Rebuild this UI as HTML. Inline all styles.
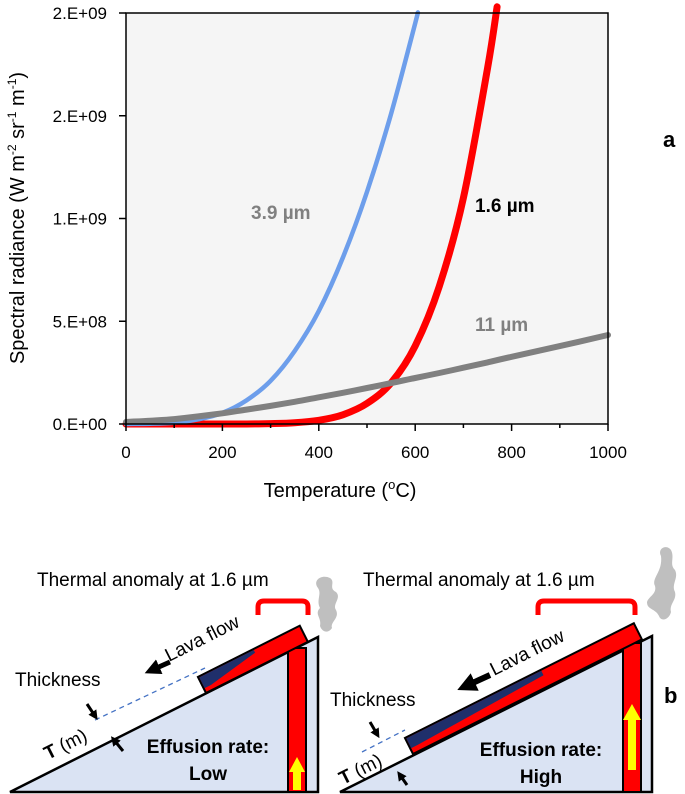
<!DOCTYPE html>
<html><head><meta charset="utf-8"><style>
body{margin:0;background:#fff;width:685px;height:794px;overflow:hidden}
svg{display:block;font-family:"Liberation Sans",Arial,sans-serif}
</style></head><body>
<svg id="svg" width="685" height="794" viewBox="0 0 685 794">
<defs><marker id="ah" viewBox="0 0 10 10" refX="5" refY="5" markerWidth="3.2" markerHeight="3.2" orient="auto"><path d="M0,0 L10,5 L0,10z" fill="#000"/></marker></defs>
<g id="chart"></g>
<g id="diagram">
 <g>
  <path d="M318,588 c-6,-8 4,-14 12,-10 c6,4 -2,10 6,14 c6,6 -4,12 0,18 c4,8 -6,12 -4,18 c-4,6 -10,4 -12,-2 c2,-8 -6,-12 0,-18 c-4,-8 2,-14 -2,-20z" fill="#bfbfbf"/>
  <polygon points="10,792 318,637 318,792" fill="#dae3f3" stroke="#000" stroke-width="2.5"/>
  <rect x="288" y="648" width="18" height="144" fill="#ff0000" stroke="#000" stroke-width="2"/>
  <polygon points="293,790 293,772 289,772 297,757 305,772 301,772 301,790" fill="#ffff00"/>
  <g transform="translate(206,693) rotate(-26.7)">
   <rect x="0" y="-18" width="114" height="18" fill="#ff0000" stroke="#000" stroke-width="2"/>
   <polygon points="1,-17 62,-17 62,-14 8,-5 1,-5" fill="#1f2f6b"/>
  </g>
  <line x1="95" y1="720" x2="205" y2="668" stroke="#4472c4" stroke-width="1.3" stroke-dasharray="5,4"/>
  <path d="M258,615 v-8 q0,-6 6,-6 h38 q6,0 6,6 v8" fill="none" stroke="#ff0000" stroke-width="5"/>
  <text x="37" y="586" font-size="19">Thermal anomaly at 1.6 µm</text>
  <text x="15" y="686" font-size="19">Thickness</text>
  <text transform="translate(169,662) rotate(-26.7)" font-size="19">Lava flow</text>
  <line x1="170" y1="662" x2="152" y2="670" stroke="#000" stroke-width="5" marker-end="url(#ah)"/>
  <line x1="87" y1="704" x2="95" y2="716" stroke="#000" stroke-width="3" marker-end="url(#ah)"/>
  <line x1="123" y1="751" x2="114" y2="740" stroke="#000" stroke-width="3" marker-end="url(#ah)"/>
  <text transform="translate(48,760) rotate(-26.7)" font-size="19"><tspan font-weight="bold">T</tspan> (m)</text>
  <text x="208" y="753" font-size="19" font-weight="bold" text-anchor="middle">Effusion rate:</text>
  <text x="208" y="780" font-size="19" font-weight="bold" text-anchor="middle">Low</text>
 </g>
 <g>
  <path d="M661,556 c-4,-8 6,-12 10,-6 c4,8 -2,14 4,20 c4,8 -4,14 0,22 c2,8 -6,12 -4,20 c-2,8 -10,10 -12,4 c-4,-8 -12,-6 -12,-14 c2,-6 10,-8 8,-16 c-4,-8 8,-14 6,-30z" fill="#bfbfbf"/>
  <polygon points="340,792 652,636 652,792" fill="#dae3f3" stroke="#000" stroke-width="2.5"/>
  <rect x="623" y="643" width="18" height="149" fill="#ff0000" stroke="#000" stroke-width="2"/>
  <polygon points="628,770 628,720 623,720 632,704 641,720 636,720 636,770" fill="#ffff00"/>
  <g transform="translate(413,754) rotate(-26.6)">
   <rect x="0" y="-18" width="256" height="18" fill="#ff0000" stroke="#000" stroke-width="2"/>
   <polygon points="1,-17 152,-17 152,-12 8,-6 1,-6" fill="#1f2f6b"/>
  </g>
  <line x1="362" y1="752" x2="405" y2="730" stroke="#4472c4" stroke-width="1.3" stroke-dasharray="5,4"/>
  <path d="M538,615 v-8 q0,-6 6,-6 h85 q6,0 6,6 v8" fill="none" stroke="#ff0000" stroke-width="5"/>
  <text x="363" y="586" font-size="19">Thermal anomaly at 1.6 µm</text>
  <text x="330" y="706" font-size="19">Thickness</text>
  <text transform="translate(494,676) rotate(-26.6)" font-size="19">Lava flow</text>
  <line x1="490" y1="675" x2="466" y2="686" stroke="#000" stroke-width="6" marker-end="url(#ah)"/>
  <line x1="370" y1="722" x2="377" y2="734" stroke="#000" stroke-width="3" marker-end="url(#ah)"/>
  <line x1="407" y1="785" x2="400" y2="775" stroke="#000" stroke-width="3" marker-end="url(#ah)"/>
  <text transform="translate(343,785) rotate(-26.6)" font-size="19"><tspan font-weight="bold">T</tspan> (m)</text>
  <text x="541" y="756" font-size="19" font-weight="bold" text-anchor="middle">Effusion rate:</text>
  <text x="541" y="783" font-size="19" font-weight="bold" text-anchor="middle">High</text>
  <text x="664" y="703" font-size="22" font-weight="bold">b</text>
 </g>
</g>
</svg>
<script>
const temps = [0,50,100,150,200,250,300,350,400,450,500,550,600,605,650,700,750,770,800,900,1000];
const rad16 = [0,0,0,0,0,1e5,1.9e6,6.1e6,1.8e7,4.5e7,1.0e8,2.0e8,3.8e8,null,6.7e8,1.10e9,1.73e9,2.03e9,null,null,null];
const rad39 = [0,1.5e6,6.7e6,2.3e7,5.4e7,1.15e8,2.1e8,3.55e8,5.5e8,8.1e8,1.13e9,1.51e9,1.95e9,2.0e9,null,null,null,null,null,null,null];
const rad11 = [1.0e7,1.6e7,2.4e7,3.7e7,5.2e7,7.0e7,8.8e7,1.08e8,1.30e8,1.52e8,1.75e8,1.99e8,2.24e8,null,2.48e8,2.74e8,3.0e8,null,3.27e8,3.79e8,4.33e8];
const yTicks = [0,5e8,1e9,1.5e9,2e9];
const yTickLabels = ["0.E+00","5.E+08","1.E+09","2.E+09","2.E+09"];
const xTicks = [0,200,400,600,800,1000];
const xMinor = [100,300,500,700,900];

const X0=126,X1=608,Y0=424,Y1=13;
const sx=v=>X0+(v/1000)*(X1-X0);
const sy=v=>Y0-(v/2e9)*(Y0-Y1);
const NS='http://www.w3.org/2000/svg';
const g=document.getElementById('chart');
function mk(tag,attrs,parent){const e=document.createElementNS(NS,tag);for(const k in attrs)e.setAttribute(k,attrs[k]);(parent||g).appendChild(e);return e;}

let e=mk('rect',{x:X0,y:Y1,width:X1-X0,height:Y0-Y1,fill:'#f5f5f5'});



function series(vals,color,w,name){
  const pts=[];
  temps.forEach((t,i)=>{const v=vals[i];if(v==null)return;pts.push([sx(t),sy(v)]);});
  let d='M'+pts[0][0]+','+pts[0][1];
  for(let i=0;i<pts.length-1;i++){
    const p0=pts[Math.max(i-1,0)],p1=pts[i],p2=pts[i+1],p3=pts[Math.min(i+2,pts.length-1)];
    const c1=[p1[0]+(p2[0]-p0[0])/6,p1[1]+(p2[1]-p0[1])/6];
    const c2=[p2[0]-(p3[0]-p1[0])/6,p2[1]-(p3[1]-p1[1])/6];
    d+=`C${c1[0].toFixed(1)},${Math.min(c1[1],Y0+1).toFixed(1)} ${c2[0].toFixed(1)},${Math.min(c2[1],Y0+1).toFixed(1)} ${p2[0].toFixed(1)},${p2[1].toFixed(1)}`;
  }
  const p=mk('path',{d:d,fill:'none',stroke:color,'stroke-width':w,'stroke-linecap':'round','stroke-linejoin':'round'});
  
  
}
series(rad16,'#ff0000',7,'series-1-6um');
series(rad39,'#6d9eeb',4.5,'series-3-9um');
series(rad11,'#808080',6,'series-11um');

e=mk('path',{d:`M${X0},${Y1}H${X1}V${Y0}H${X0}Z`,fill:'none',stroke:'#000','stroke-width':1.5});



yTicks.forEach((v,i)=>{
  const t=mk('line',{x1:X0-7,x2:X0,y1:sy(v),y2:sy(v),stroke:'#000','stroke-width':1.5});
  
  
  const l=mk('text',{x:X0-19,y:sy(v)+6,'font-size':17,'text-anchor':'end'});
  l.textContent=yTickLabels[i];
  
  
});
xTicks.forEach(v=>{
  const t=mk('line',{x1:sx(v),x2:sx(v),y1:Y0,y2:Y0+7,stroke:'#000','stroke-width':1.5});
  
  
  const l=mk('text',{x:sx(v),y:Y0+34,'font-size':17,'text-anchor':'middle'});
  l.textContent=v;
  
  
});
xMinor.forEach(v=>{
  const t=mk('line',{x1:sx(v),x2:sx(v),y1:Y0,y2:Y0+4,stroke:'#000','stroke-width':1.5});
  
  
});

e=mk('text',{x:340,y:497,'font-size':20,'text-anchor':'middle'});
e.innerHTML='Temperature  (<tspan font-size="13" dy="-8">o</tspan><tspan dy="8">C)</tspan>';



e=mk('text',{transform:'translate(24,218) rotate(-90)','font-size':20,'text-anchor':'middle'});
e.innerHTML='Spectral radiance (W m<tspan font-size="12" dy="-8">-2</tspan><tspan dy="8"> sr</tspan><tspan font-size="12" dy="-8">-1</tspan><tspan dy="8"> m</tspan><tspan font-size="12" dy="-8">-1</tspan><tspan dy="8">)</tspan>';



[['3.9 µm',251,219,'#808080','label-3-9um'],['1.6 µm',475,212,'#000','label-1-6um'],['11 µm',475,331,'#808080','label-11um']].forEach(a=>{
  const t=mk('text',{x:a[1],y:a[2],'font-size':19,'font-weight':'bold',fill:a[3]});
  t.textContent=a[0];
  
  
});
e=mk('text',{x:663,y:147,'font-size':22,'font-weight':'bold'});
e.textContent='a';


</script>
</body></html>
